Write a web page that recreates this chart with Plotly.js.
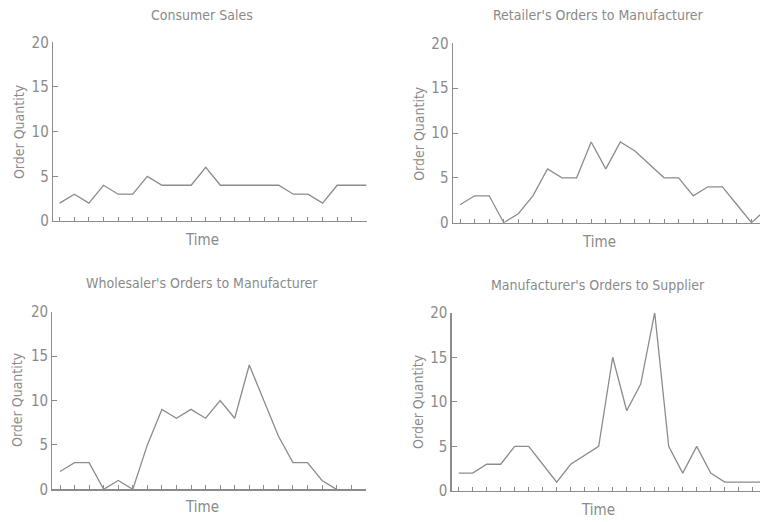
<!DOCTYPE html>
<html>
<head>
<meta charset="utf-8">
<script src="https://cdn.plot.ly/plotly-3.0.1.min.js"></script>
<style>html,body{margin:0;padding:0;background:#fff;}#chart{width:760px;height:522px;}</style>
</head>
<body>
<div id="chart"></div>
<script>
// Data (order quantity per time period)
const consumerSales = [2, 3, 2, 4, 3, 3, 5, 4, 4, 4, 6, 4, 4, 4, 4, 4, 3, 3, 2, 4, 4, 4];
const retailerOrders = [2, 3, 3, 0, 1, 3, 6, 5, 5, 9, 6, 9, 8, 6.5, 5, 5, 3, 4, 4, 2, 0, 1.5];
const wholesalerOrders = [2, 3, 3, 0, 1, 0, 5, 9, 8, 9, 8, 10, 8, 14, 10, 6, 3, 3, 1, 0];
const manufacturerOrders = [2, 2, 3, 3, 5, 5, 3, 1, 3, 4, 5, 15, 9, 12, 20, 5, 2, 5, 2, 1, 1, 1, 1];
const panelTitles = ["Consumer Sales", "Retailer's Orders to Manufacturer",
                     "Wholesaler's Orders to Manufacturer", "Manufacturer's Orders to Supplier"];
const yTickVals = [0, 5, 10, 15, 20];
const xLabel = "Time";
const yLabel = "Order Quantity";

const FONT = "'Liberation Sans Narrow', 'DejaVu Sans Condensed', 'Arial Narrow', sans-serif";
const TXT = "#8a8a8a";
const LINE = "#8c8c8c";

const series = [consumerSales, retailerOrders, wholesalerOrders, manufacturerOrders];
const traces = series.map((s, k) => ({
  type: "scatter", mode: "lines",
  x: s.map((_, i) => i), y: s,
  xaxis: k === 0 ? "x" : "x" + (k + 1),
  yaxis: k === 0 ? "y" : "y" + (k + 1),
  line: {color: LINE, width: 1.3},
  hoverinfo: "skip", showlegend: false
}));

// panel geometry (paper fractions)
const panels = [
  {xd: [0.0697, 0.4825], yd: [0.5766, 0.919], xr: [-0.46, 21.02], tx: 0.266, ty: 0.971, timeX: 0.266, timeY: 0.540, oqX: 0.025, oqY: 0.747},
  {xd: [0.5957, 1.0],    yd: [0.5734, 0.917], xr: [-0.50, 20.58], tx: 0.787, ty: 0.971, timeX: 0.788, timeY: 0.536, oqX: 0.551, oqY: 0.745},
  {xd: [0.0688, 0.4816], yd: [0.0626, 0.4029], xr: [-0.53, 21.02], tx: 0.266, ty: 0.4579, timeX: 0.266, timeY: 0.0287, oqX: 0.0224, oqY: 0.2337},
  {xd: [0.5943, 1.0],    yd: [0.0594, 0.401], xr: [-0.50, 21.52], tx: 0.787, ty: 0.454, timeX: 0.787, timeY: 0.023, oqX: 0.550, oqY: 0.230}
];

const layout = {
  width: 760, height: 522,
  margin: {l: 0, r: 0, t: 0, b: 0, pad: 0},
  paper_bgcolor: "#fff", plot_bgcolor: "#fff",
  font: {family: FONT, color: TXT, size: 14},
  showlegend: false,
  annotations: []
};

panels.forEach((p, k) => {
  const xa = k === 0 ? "xaxis" : "xaxis" + (k + 1);
  const ya = k === 0 ? "yaxis" : "yaxis" + (k + 1);
  const yid = k === 0 ? "y" : "y" + (k + 1);
  const xid = k === 0 ? "x" : "x" + (k + 1);
  layout[xa] = {
    domain: p.xd, anchor: yid, range: p.xr,
    showgrid: false, zeroline: false, showline: true, linecolor: LINE, linewidth: 1.2,
    ticks: "inside", ticklen: 4, tickwidth: 1, tickcolor: LINE,
    tick0: 0, dtick: 1, showticklabels: false, fixedrange: true
  };
  layout[ya] = {
    domain: p.yd, anchor: xid, range: [0, 20],
    showgrid: false, zeroline: false, showline: true, linecolor: LINE, linewidth: 1.2,
    ticks: "inside", ticklen: 5, tickwidth: 1, tickcolor: LINE,
    tickmode: "array", tickvals: yTickVals, ticktext: yTickVals.map(String),
    tickfont: {family: FONT, size: 15, color: TXT}, fixedrange: true
  };
  layout.annotations.push(
    {text: panelTitles[k], xref: "paper", yref: "paper", x: p.tx, y: p.ty, xanchor: "center", yanchor: "middle",
     showarrow: false, font: {family: FONT, size: 14, color: TXT}},
    {text: xLabel, xref: "paper", yref: "paper", x: p.timeX, y: p.timeY, xanchor: "center", yanchor: "middle",
     showarrow: false, font: {family: FONT, size: 15, color: TXT}},
    {text: yLabel, xref: "paper", yref: "paper", x: p.oqX, y: p.oqY, xanchor: "center", yanchor: "middle",
     textangle: -90, showarrow: false, font: {family: FONT, size: 14, color: TXT}}
  );
});

Plotly.newPlot("chart", traces, layout, {staticPlot: true, displayModeBar: false});
</script>
</body>
</html>
